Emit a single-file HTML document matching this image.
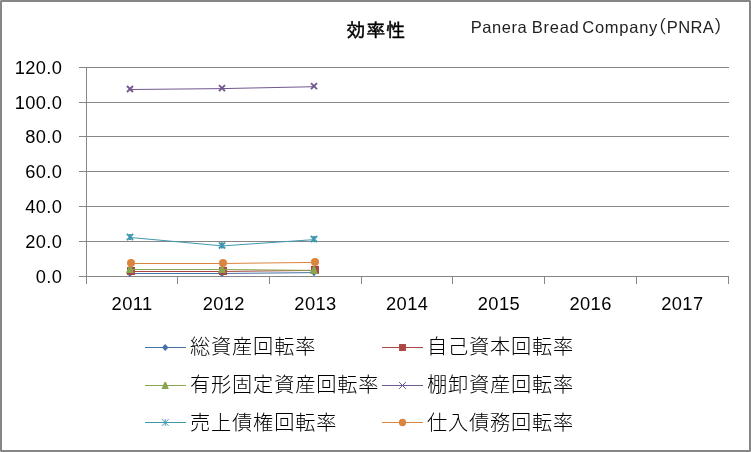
<!DOCTYPE html>
<html lang="ja"><head><meta charset="utf-8"><title>効率性</title>
<style>
html,body{margin:0;padding:0;background:#fff;}
body{width:751px;height:452px;overflow:hidden;}
svg{display:block;}
.num{font-family:"Liberation Sans",sans-serif;font-size:18.3px;letter-spacing:0.4px;fill:#000;}
.jp{font-family:"Liberation Sans","IPAGothic","Noto Sans CJK JP",sans-serif;fill:#000;}
.ttl{font-family:"Liberation Sans","IPAGothic","Noto Sans CJK JP",sans-serif;font-size:19px;letter-spacing:0.95px;stroke:#000;stroke-width:0.45px;}
.sub{font-size:16.5px;fill:#222;}
.lg{font-family:"Liberation Sans","Noto Sans CJK JP","IPAGothic",sans-serif;font-weight:300;font-size:20.2px;letter-spacing:0.85px;}
</style></head><body>
<svg width="751" height="452" viewBox="0 0 751 452">
<rect x="0" y="0" width="751" height="452" fill="#fff"/>
<rect x="1" y="1" width="749" height="450" fill="none" stroke="#868686" stroke-width="2" shape-rendering="crispEdges"/>

<g fill="#b4b4b4" shape-rendering="crispEdges"><rect x="0" y="0" width="1" height="1"/><rect x="750" y="0" width="1" height="1"/><rect x="0" y="451" width="1" height="1"/><rect x="750" y="451" width="1" height="1"/></g>
<g stroke="#868686" stroke-width="1" shape-rendering="crispEdges">
<line x1="79" y1="67.5" x2="729" y2="67.5"/>
<line x1="79" y1="102.5" x2="729" y2="102.5"/>
<line x1="79" y1="136.5" x2="729" y2="136.5"/>
<line x1="79" y1="171.5" x2="729" y2="171.5"/>
<line x1="79" y1="206.5" x2="729" y2="206.5"/>
<line x1="79" y1="241.5" x2="729" y2="241.5"/>
<line x1="79" y1="276.5" x2="729" y2="276.5"/>
<line x1="86.5" y1="67" x2="86.5" y2="284"/>
<line x1="177.5" y1="276" x2="177.5" y2="284"/>
<line x1="269.5" y1="276" x2="269.5" y2="284"/>
<line x1="361.5" y1="276" x2="361.5" y2="284"/>
<line x1="452.5" y1="276" x2="452.5" y2="284"/>
<line x1="544.5" y1="276" x2="544.5" y2="284"/>
<line x1="636.5" y1="276" x2="636.5" y2="284"/>
<line x1="728.5" y1="276" x2="728.5" y2="284"/>
</g>
<polyline points="130.5,273.5 222.5,273.5 314.5,272.6" fill="none" stroke="#4572A7" stroke-width="1"/>
<path d="M126.1 273L130 268.9L133.9 273L130 277.1Z" fill="#4572A7"/>
<path d="M218.1 273L222 268.9L225.9 273L222 277.1Z" fill="#4572A7"/>
<path d="M310.1 272.1L314 268L317.9 272.1L314 276.2Z" fill="#4572A7"/>
<polyline points="130.5,271.5 222.5,271.5 314.5,270.4" fill="none" stroke="#AA4643" stroke-width="1"/>
<rect x="127" y="267" width="8" height="8" fill="#AA4643"/>
<rect x="219" y="267" width="8" height="8" fill="#AA4643"/>
<rect x="311" y="265.9" width="8" height="8" fill="#AA4643"/>
<polyline points="130.5,269.5 222.5,269.5 314.5,270.4" fill="none" stroke="#89A54E" stroke-width="1"/>
<path d="M129.2 265L130.8 265L134 273L126 273Z" fill="#89A54E"/>
<path d="M221.2 265L222.8 265L226 273L218 273Z" fill="#89A54E"/>
<path d="M313.2 265.9L314.8 265.9L318 273.9L310 273.9Z" fill="#89A54E"/>
<polyline points="130.5,89.5 222.5,88.6 314.5,86.7" fill="none" stroke="#71588F" stroke-width="1"/>
<path d="M127 86L133 92M127 92L133 86" fill="none" stroke="#71588F" stroke-width="1.9"/>
<path d="M219 85.1L225 91.1M219 91.1L225 85.1" fill="none" stroke="#71588F" stroke-width="1.9"/>
<path d="M311 83.2L317 89.2M311 89.2L317 83.2" fill="none" stroke="#71588F" stroke-width="1.9"/>
<polyline points="130.5,237.5 222.5,245.9 314.5,239.6" fill="none" stroke="#4198AF" stroke-width="1"/>
<path d="M126.9 233.9L133.1 240.1M126.9 240.1L133.1 233.9M130 233.9L130 240.1" fill="none" stroke="#4198AF" stroke-width="1.9"/>
<path d="M218.9 242.3L225.1 248.5M218.9 248.5L225.1 242.3M222 242.3L222 248.5" fill="none" stroke="#4198AF" stroke-width="1.9"/>
<path d="M310.9 236L317.1 242.2M310.9 242.2L317.1 236M314 236L314 242.2" fill="none" stroke="#4198AF" stroke-width="1.9"/>
<polyline points="130.5,263.5 222.5,263.5 314.5,262.4" fill="none" stroke="#DB843D" stroke-width="1"/>
<circle cx="131" cy="263" r="4" fill="#DB843D"/>
<circle cx="223" cy="263" r="4" fill="#DB843D"/>
<circle cx="315" cy="261.9" r="4" fill="#DB843D"/>
<text class="num" x="62.4" y="74" text-anchor="end">120.0</text>
<text class="num" x="62.4" y="109" text-anchor="end">100.0</text>
<text class="num" x="62.4" y="143" text-anchor="end">80.0</text>
<text class="num" x="62.4" y="178" text-anchor="end">60.0</text>
<text class="num" x="62.4" y="213" text-anchor="end">40.0</text>
<text class="num" x="62.4" y="248" text-anchor="end">20.0</text>
<text class="num" x="62.4" y="283" text-anchor="end">0.0</text>
<text class="num" x="132.06" y="309.5" text-anchor="middle">2011</text>
<text class="num" x="223.77" y="309.5" text-anchor="middle">2012</text>
<text class="num" x="315.48" y="309.5" text-anchor="middle">2013</text>
<text class="num" x="407.20" y="309.5" text-anchor="middle">2014</text>
<text class="num" x="498.91" y="309.5" text-anchor="middle">2015</text>
<text class="num" x="590.63" y="309.5" text-anchor="middle">2016</text>
<text class="num" x="682.34" y="309.5" text-anchor="middle">2017</text>
<text class="jp ttl" x="346.2" y="36.9">効率性</text>
<text class="jp sub" y="32.7"><tspan x="470.7" textLength="56" lengthAdjust="spacing">Panera</tspan> <tspan x="531.8" textLength="47" lengthAdjust="spacing">Bread</tspan> <tspan x="582.3" textLength="75" lengthAdjust="spacing">Company</tspan><tspan x="649" font-size="18">（</tspan><tspan x="666.8" textLength="47" lengthAdjust="spacing">PNRA</tspan><tspan x="713.5" font-size="18">）</tspan></text>
<line x1="145" y1="347.5" x2="186" y2="347.5" stroke="#4572A7" stroke-width="1.1"/>
<path d="M161.9 347.5L165.2 344L168.5 347.5L165.2 351Z" fill="#4572A7"/>
<text class="jp lg" x="190" y="354.3">総資産回転率</text>
<line x1="382" y1="347.5" x2="423" y2="347.5" stroke="#AA4643" stroke-width="1.1"/>
<rect x="399.05" y="344.05" width="6.9" height="6.9" fill="#AA4643"/>
<text class="jp lg" x="426.9" y="354.3">自己資本回転率</text>
<line x1="145" y1="385.5" x2="186" y2="385.5" stroke="#89A54E" stroke-width="1.1"/>
<path d="M164.4 381.9L166 381.9L168.8 389.1L161.6 389.1Z" fill="#89A54E"/>
<text class="jp lg" x="190" y="392.3">有形固定資産回転率</text>
<line x1="382" y1="385.5" x2="423" y2="385.5" stroke="#71588F" stroke-width="1.1"/>
<path d="M399.1 382.1L405.9 388.9M399.1 388.9L405.9 382.1" fill="none" stroke="#71588F" stroke-width="1"/>
<text class="jp lg" x="426.9" y="392.3">棚卸資産回転率</text>
<line x1="145" y1="422.5" x2="186" y2="422.5" stroke="#4198AF" stroke-width="1.1"/>
<path d="M161.8 419.1L168.6 425.9M161.8 425.9L168.6 419.1M165.2 419.1L165.2 425.9" fill="none" stroke="#4198AF" stroke-width="1"/>
<text class="jp lg" x="190" y="430.2">売上債権回転率</text>
<line x1="382" y1="422.5" x2="423" y2="422.5" stroke="#DB843D" stroke-width="1.1"/>
<circle cx="402.5" cy="422.5" r="3.65" fill="#DB843D"/>
<text class="jp lg" x="426.9" y="430.2">仕入債務回転率</text>
</svg></body></html>
